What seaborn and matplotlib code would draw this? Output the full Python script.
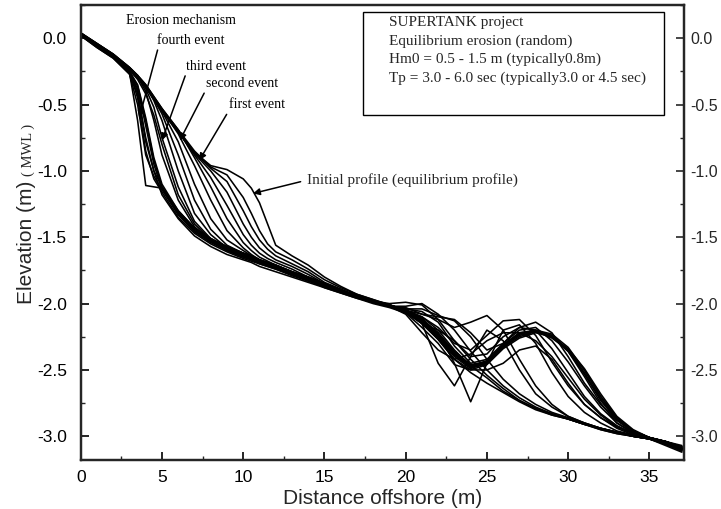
import numpy as np
import pandas as pd
import matplotlib
matplotlib.use("Agg")
import matplotlib.pyplot as plt
import matplotlib.patches as mpatches
import seaborn as sns
from matplotlib.ticker import MultipleLocator

# ---------------- data ----------------
distance = [0, 1, 2, 3, 3.5, 4, 4.5, 5, 6, 7, 8, 9, 10, 10.5, 11, 11.5, 12, 13, 14, 15, 16, 17, 18, 19,
            20, 21, 22, 23, 24, 25, 26, 27, 28, 29, 30, 31, 32, 33, 34, 35, 36, 37]

# initial (equilibrium) profile
profile_00 = [0.03, -0.05, -0.13, -0.23, -0.29, -0.36, -0.45, -0.54, -0.70, -0.86, -0.96, -0.99, -1.06, -1.13, -1.24, -1.40, -1.56, -1.64, -1.71, -1.80, -1.87, -1.93, -1.97, -2.01,
              -2.06, -2.15, -2.27, -2.42, -2.52, -2.60, -2.67, -2.74, -2.80, -2.84, -2.87, -2.91, -2.95, -2.98, -3.00, -3.02, -3.05, -3.11]
# first event
profile_01 = [0.04, -0.04, -0.12, -0.22, -0.28, -0.35, -0.44, -0.53, -0.69, -0.85, -0.97, -1.03, -1.20, -1.32, -1.45, -1.55, -1.61, -1.67, -1.74, -1.82, -1.88, -1.93, -1.97, -2.01,
              -2.05, -2.10, -2.20, -2.35, -2.47, -2.56, -2.66, -2.73, -2.79, -2.84, -2.87, -2.91, -2.95, -2.98, -3.00, -3.02, -3.05, -3.10]
profile_02 = [0.03, -0.05, -0.13, -0.23, -0.29, -0.36, -0.45, -0.54, -0.70, -0.86, -0.98, -1.08, -1.30, -1.42, -1.52, -1.59, -1.64, -1.70, -1.76, -1.84, -1.89, -1.94, -1.98, -2.00,
              -1.99, -2.01, -2.12, -2.28, -2.42, -2.54, -2.64, -2.73, -2.79, -2.83, -2.87, -2.91, -2.94, -2.97, -3.00, -3.02, -3.06, -3.11]
profile_03 = [0.02, -0.06, -0.14, -0.24, -0.30, -0.37, -0.46, -0.55, -0.71, -0.87, -1.00, -1.16, -1.40, -1.50, -1.58, -1.63, -1.67, -1.72, -1.78, -1.85, -1.90, -1.95, -1.99, -2.02,
              -2.02, -2.00, -2.08, -2.20, -2.36, -2.50, -2.62, -2.71, -2.78, -2.83, -2.87, -2.91, -2.94, -2.97, -3.00, -3.02, -3.05, -3.09]
profile_04 = [0.03, -0.05, -0.13, -0.23, -0.29, -0.36, -0.45, -0.54, -0.70, -0.88, -1.05, -1.26, -1.48, -1.56, -1.62, -1.66, -1.69, -1.74, -1.80, -1.86, -1.91, -1.95, -1.99, -2.02,
              -2.04, -2.04, -2.09, -2.13, -2.25, -2.42, -2.57, -2.68, -2.76, -2.82, -2.86, -2.90, -2.94, -2.97, -3.00, -3.02, -3.06, -3.10]
profile_05 = [0.04, -0.04, -0.12, -0.22, -0.28, -0.35, -0.44, -0.53, -0.69, -0.90, -1.12, -1.36, -1.54, -1.60, -1.65, -1.68, -1.71, -1.76, -1.81, -1.87, -1.91, -1.95, -1.99, -2.02,
              -2.06, -2.15, -2.45, -2.62, -2.40, -2.20, -2.28, -2.50, -2.68, -2.78, -2.85, -2.90, -2.94, -2.97, -3.00, -3.02, -3.05, -3.09]
profile_06 = [0.03, -0.05, -0.13, -0.23, -0.29, -0.36, -0.45, -0.54, -0.72, -0.96, -1.22, -1.45, -1.58, -1.63, -1.67, -1.70, -1.73, -1.77, -1.82, -1.88, -1.92, -1.96, -1.99, -2.02,
              -2.05, -2.08, -2.12, -2.18, -2.14, -2.09, -2.20, -2.42, -2.62, -2.76, -2.85, -2.90, -2.94, -2.97, -3.00, -3.02, -3.05, -3.10]
# second / third events
profile_07 = [0.03, -0.05, -0.13, -0.23, -0.29, -0.36, -0.45, -0.55, -0.78, -1.10, -1.36, -1.52, -1.60, -1.64, -1.67, -1.70, -1.72, -1.77, -1.82, -1.87, -1.91, -1.95, -1.99, -2.02,
              -2.06, -2.12, -2.22, -2.45, -2.74, -2.45, -2.20, -2.16, -2.30, -2.52, -2.70, -2.82, -2.90, -2.96, -2.99, -3.01, -3.05, -3.09]
profile_08 = [0.02, -0.06, -0.14, -0.24, -0.30, -0.37, -0.46, -0.57, -0.88, -1.22, -1.44, -1.56, -1.62, -1.65, -1.68, -1.70, -1.72, -1.77, -1.81, -1.86, -1.91, -1.95, -1.99, -2.02,
              -2.05, -2.10, -2.18, -2.30, -2.35, -2.24, -2.13, -2.12, -2.24, -2.44, -2.62, -2.76, -2.86, -2.94, -2.99, -3.01, -3.04, -3.08]
profile_09 = [0.03, -0.05, -0.13, -0.23, -0.29, -0.36, -0.47, -0.62, -1.00, -1.32, -1.48, -1.58, -1.63, -1.66, -1.68, -1.71, -1.73, -1.78, -1.82, -1.87, -1.91, -1.95, -1.99, -2.02,
              -2.05, -2.15, -2.20, -2.28, -2.40, -2.38, -2.25, -2.18, -2.20, -2.34, -2.52, -2.70, -2.83, -2.92, -2.98, -3.01, -3.04, -3.09]
profile_10 = [0.04, -0.04, -0.12, -0.22, -0.28, -0.38, -0.52, -0.75, -1.12, -1.38, -1.51, -1.59, -1.64, -1.66, -1.69, -1.71, -1.73, -1.78, -1.82, -1.87, -1.91, -1.95, -1.99, -2.02,
              -2.04, -2.06, -2.14, -2.32, -2.45, -2.42, -2.30, -2.20, -2.18, -2.28, -2.44, -2.62, -2.78, -2.90, -2.97, -3.01, -3.04, -3.08]
profile_11 = [0.03, -0.05, -0.13, -0.23, -0.29, -0.40, -0.62, -0.88, -1.22, -1.42, -1.53, -1.60, -1.65, -1.67, -1.69, -1.71, -1.73, -1.78, -1.82, -1.87, -1.91, -1.95, -1.99, -2.02,
              -2.08, -2.22, -2.35, -2.42, -2.38, -2.28, -2.22, -2.22, -2.28, -2.40, -2.56, -2.72, -2.84, -2.93, -2.98, -3.01, -3.04, -3.09]
profile_12 = [0.03, -0.05, -0.13, -0.24, -0.31, -0.42, -0.58, -0.80, -1.18, -1.40, -1.52, -1.59, -1.64, -1.66, -1.69, -1.71, -1.73, -1.78, -1.82, -1.86, -1.91, -1.95, -1.99, -2.02,
              -2.03, -2.08, -2.10, -2.12, -2.22, -2.35, -2.30, -2.18, -2.14, -2.22, -2.40, -2.60, -2.76, -2.88, -2.96, -3.01, -3.04, -3.09]
# fourth event
profile_13 = [0.03, -0.06, -0.14, -0.25, -0.40, -0.78, -1.00, -1.12, -1.30, -1.43, -1.51, -1.57, -1.62, -1.64, -1.67, -1.69, -1.71, -1.76, -1.80, -1.85, -1.90, -1.94, -1.98, -2.01,
              -2.05, -2.12, -2.22, -2.36, -2.46, -2.44, -2.32, -2.22, -2.20, -2.25, -2.36, -2.53, -2.72, -2.87, -2.96, -3.01, -3.04, -3.08]
profile_14 = [0.03, -0.06, -0.14, -0.26, -0.62, -1.11, -1.12, -1.13, -1.33, -1.45, -1.53, -1.59, -1.63, -1.65, -1.68, -1.70, -1.72, -1.77, -1.81, -1.86, -1.91, -1.95, -1.99, -2.02,
              -2.06, -2.13, -2.25, -2.38, -2.48, -2.44, -2.31, -2.22, -2.21, -2.26, -2.35, -2.50, -2.70, -2.86, -2.96, -3.01, -3.05, -3.10]
profile_15 = [0.02, -0.07, -0.15, -0.27, -0.50, -0.88, -1.04, -1.14, -1.31, -1.44, -1.52, -1.58, -1.62, -1.64, -1.67, -1.69, -1.71, -1.76, -1.80, -1.85, -1.90, -1.94, -1.98, -2.01,
              -2.05, -2.11, -2.23, -2.37, -2.47, -2.45, -2.33, -2.23, -2.21, -2.25, -2.34, -2.49, -2.68, -2.85, -2.95, -3.01, -3.04, -3.07]
profile_16 = [0.03, -0.06, -0.14, -0.25, -0.45, -0.85, -1.06, -1.16, -1.35, -1.47, -1.55, -1.61, -1.66, -1.68, -1.70, -1.72, -1.74, -1.79, -1.83, -1.87, -1.91, -1.95, -1.99, -2.02,
              -2.07, -2.18, -2.30, -2.46, -2.50, -2.50, -2.45, -2.35, -2.32, -2.42, -2.60, -2.76, -2.86, -2.93, -2.98, -3.01, -3.05, -3.10]
# final profiles
profile_17 = [0.03, -0.06, -0.14, -0.25, -0.35, -0.60, -0.90, -1.10, -1.30, -1.43, -1.51, -1.57, -1.62, -1.64, -1.67, -1.69, -1.71, -1.76, -1.80, -1.85, -1.90, -1.94, -1.98, -2.01,
              -2.05, -2.12, -2.24, -2.38, -2.47, -2.43, -2.31, -2.23, -2.20, -2.23, -2.33, -2.50, -2.70, -2.86, -2.96, -3.01, -3.04, -3.08]
profile_18 = [0.04, -0.05, -0.14, -0.26, -0.38, -0.66, -0.95, -1.14, -1.33, -1.46, -1.54, -1.60, -1.65, -1.67, -1.70, -1.72, -1.74, -1.78, -1.83, -1.87, -1.91, -1.95, -1.99, -2.02,
              -2.06, -2.14, -2.26, -2.40, -2.49, -2.45, -2.33, -2.25, -2.21, -2.24, -2.35, -2.53, -2.73, -2.88, -2.97, -3.02, -3.06, -3.11]
profile_19 = [0.02, -0.07, -0.15, -0.27, -0.42, -0.75, -1.00, -1.18, -1.36, -1.49, -1.57, -1.63, -1.67, -1.69, -1.72, -1.74, -1.76, -1.80, -1.84, -1.88, -1.92, -1.96, -2.00, -2.03,
              -2.07, -2.15, -2.27, -2.42, -2.50, -2.46, -2.34, -2.26, -2.22, -2.25, -2.36, -2.55, -2.75, -2.90, -2.98, -3.02, -3.07, -3.12]
profile_20 = [0.03, -0.06, -0.14, -0.25, -0.36, -0.62, -0.92, -1.12, -1.32, -1.45, -1.53, -1.59, -1.64, -1.66, -1.69, -1.71, -1.73, -1.77, -1.82, -1.86, -1.90, -1.94, -1.98, -2.01,
              -2.05, -2.13, -2.25, -2.39, -2.48, -2.45, -2.32, -2.24, -2.21, -2.24, -2.35, -2.52, -2.72, -2.87, -2.96, -3.01, -3.05, -3.09]

profiles = [profile_00, profile_01, profile_02, profile_03, profile_04, profile_05, profile_06,
            profile_07, profile_08, profile_09, profile_10, profile_11, profile_12, profile_13,
            profile_14, profile_15, profile_16, profile_17, profile_18, profile_19, profile_20]

x_ticks = [0, 5, 10, 15, 20, 25, 30, 35]
y_ticks = [0.0, -0.5, -1.0, -1.5, -2.0, -2.5, -3.0]

box_lines = ["SUPERTANK project",
             "Equilibrium erosion (random)",
             "Hm0 = 0.5 - 1.5 m (typically0.8m)",
             "Tp = 3.0 - 6.0 sec (typically3.0 or 4.5 sec)"]

# ---------------- figure ----------------
sns.set_theme(style="ticks")
plt.rcParams["font.family"] = ["Liberation Sans Narrow", "Liberation Sans", "DejaVu Sans"]

rows = []
for i, prof in enumerate(profiles):
    for xv, yv in zip(distance, prof):
        rows.append({"profile": i, "distance": xv, "elevation": yv})
df = pd.DataFrame(rows)

fig = plt.figure(figsize=(7.21, 5.09), dpi=100)
ax = fig.add_axes([0.112, 0.096, 0.836, 0.894])

sns.lineplot(data=df, x="distance", y="elevation", units="profile", estimator=None,
             color="black", linewidth=1.15, sort=False, ax=ax, legend=False)

ax.set_xlim(0, 37.1)
ax.set_ylim(-3.18, 0.25)
ax.set_xticks(x_ticks)
ax.set_yticks(y_ticks)
ax.set_yticklabels([f"{v:.1f}" for v in y_ticks])
ax.xaxis.set_minor_locator(MultipleLocator(2.5))
ax.yaxis.set_minor_locator(MultipleLocator(0.25))
ax.tick_params(axis="both", which="major", direction="in", length=6, width=1.2,
               labelsize=12.5, colors="black")
ax.tick_params(axis="y", which="major", pad=10)
ax.tick_params(axis="x", which="major", pad=7)
ax.tick_params(axis="both", which="minor", direction="in", length=3, width=1.0)
ax.set_xlabel("Distance offshore (m)", fontsize=15, labelpad=3)
ax.set_ylabel("")
for s in ax.spines.values():
    s.set_linewidth(1.6)
    s.set_color("black")

ax2 = ax.twinx()
ax2.set_ylim(ax.get_ylim())
ax2.set_yticks(y_ticks)
ax2.set_yticklabels([f"{v:.1f}" for v in y_ticks])
ax2.yaxis.set_minor_locator(MultipleLocator(0.25))
ax2.tick_params(axis="y", which="major", direction="in", length=6, width=1.2,
                labelsize=11.5, pad=5)
ax2.tick_params(axis="y", which="minor", direction="in", length=3, width=1.0)
for s in ax2.spines.values():
    s.set_linewidth(1.6)

serif = ["Liberation Serif", "DejaVu Serif"]
fig.text(0.037, 0.523, "Elevation (m)", rotation=90, ha="center", va="center", fontsize=15)
fig.text(0.039, 0.705, "( MWL )", rotation=90, ha="center", va="center", fontsize=10.5,
         family=serif)

tkw = dict(fontsize=10, family=serif, color="black")
ax.text(2.8, 0.135, "Erosion mechanism", va="center", ha="left", **tkw)
arrow = dict(arrowstyle="-|>", color="black", lw=1.1, mutation_scale=10, shrinkA=0, shrinkB=0)
ax.annotate("fourth event", xy=(3.6, -0.60), xytext=(4.7, -0.015), va="center", ha="left",
            arrowprops=dict(arrow, relpos=(0.02, 0.0)), **tkw)
ax.annotate("third event", xy=(5.0, -0.77), xytext=(6.5, -0.21), va="center", ha="left",
            arrowprops=dict(arrow, relpos=(0.0, 0.0)), **tkw)
ax.annotate("second event", xy=(6.1, -0.77), xytext=(7.7, -0.34), va="center", ha="left",
            arrowprops=dict(arrow, relpos=(0.0, 0.0)), **tkw)
ax.annotate("first event", xy=(7.3, -0.92), xytext=(9.1, -0.50), va="center", ha="left",
            arrowprops=dict(arrow, relpos=(0.0, 0.0)), **tkw)
ax.annotate("Initial profile (equilibrium profile)", xy=(10.6, -1.17), xytext=(13.9, -1.07),
            va="center", ha="left", fontsize=11, family=serif,
            arrowprops=dict(arrow, shrinkA=2, relpos=(0.0, 0.5)))

# info box (axes-fraction placement)
ax.add_patch(mpatches.Rectangle((0.468, 0.758), 0.500, 0.227, transform=ax.transAxes,
                                fc="white", ec="black", lw=1.0, zorder=5))
for k, line in enumerate(box_lines):
    ax.text(0.512, 0.962 - k * 0.041, line, transform=ax.transAxes, va="center", ha="left",
            fontsize=11, family=serif, zorder=6)

fig.savefig("out.png", dpi=100)
